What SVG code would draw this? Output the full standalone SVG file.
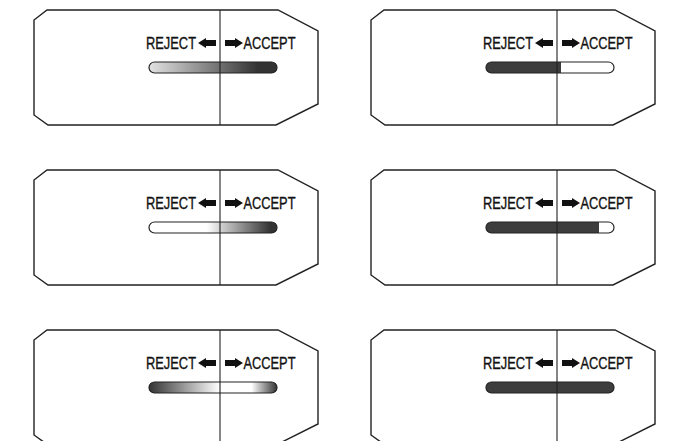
<svg xmlns="http://www.w3.org/2000/svg" width="673" height="441" viewBox="0 0 673 441">
  <style>
    .frame { fill: #fff; stroke: #222; stroke-width: 1.4; }
    .divider { stroke: #222; stroke-width: 1.1; }
    .lbl { font-family: "Liberation Sans", Arial, sans-serif; font-size: 16.5px; fill: #111; stroke: #111; stroke-width: 0.35; }
    .arr { fill: #111; }
    .bar { stroke: #222; stroke-width: 1.2; }
  </style>
  <defs>
    <linearGradient id="g1" x1="0" y1="0" x2="1" y2="0">
      <stop offset="0" stop-color="#e2e2e2"/>
      <stop offset="0.85" stop-color="#333"/>
      <stop offset="1" stop-color="#333"/>
    </linearGradient>
    <linearGradient id="g2" x1="0" y1="0" x2="1" y2="0">
      <stop offset="0" stop-color="#3d3d3d"/>
      <stop offset="0.585" stop-color="#3d3d3d"/>
      <stop offset="0.585" stop-color="#fff"/>
      <stop offset="1" stop-color="#fff"/>
    </linearGradient>
    <linearGradient id="g3" x1="0" y1="0" x2="1" y2="0">
      <stop offset="0" stop-color="#fff"/>
      <stop offset="0.45" stop-color="#fff"/>
      <stop offset="0.95" stop-color="#333"/>
      <stop offset="1" stop-color="#333"/>
    </linearGradient>
    <linearGradient id="g4" x1="0" y1="0" x2="1" y2="0">
      <stop offset="0" stop-color="#3d3d3d"/>
      <stop offset="0.88" stop-color="#3d3d3d"/>
      <stop offset="0.88" stop-color="#fff"/>
      <stop offset="1" stop-color="#fff"/>
    </linearGradient>
    <linearGradient id="g5" x1="0" y1="0" x2="1" y2="0">
      <stop offset="0" stop-color="#333"/>
      <stop offset="0.55" stop-color="#fff"/>
      <stop offset="0.8" stop-color="#fff"/>
      <stop offset="1" stop-color="#333"/>
    </linearGradient>
  </defs>

  <g id="panel-1">
    <polygon class="frame" points="47,10 278,10 318,31 318,104 276,125 48,125 34,115 34,20"/>
    <rect class="bar" x="149" y="62" width="128" height="11" rx="5.5" fill="url(#g1)"/>
    <line class="divider" x1="220" y1="10" x2="220" y2="125"/>
    <text class="lbl" x="146" y="48.5" textLength="50" lengthAdjust="spacingAndGlyphs">REJECT</text>
    <path class="arr" d="M198,43 L206,38 L206,40 L216,40 L216,46 L206,46 L206,48 Z"/>
    <path class="arr" d="M243,43 L235,38 L235,40 L225,40 L225,46 L235,46 L235,48 Z"/>
    <text class="lbl" x="243.5" y="48.5" textLength="52" lengthAdjust="spacingAndGlyphs">ACCEPT</text>
  </g>

  <g id="panel-2" transform="translate(337,0)">
    <polygon class="frame" points="47,10 278,10 318,31 318,104 276,125 48,125 34,115 34,20"/>
    <rect class="bar" x="149" y="62" width="128" height="11" rx="5.5" fill="url(#g2)"/>
    <line class="divider" x1="220" y1="10" x2="220" y2="125"/>
    <text class="lbl" x="146" y="48.5" textLength="50" lengthAdjust="spacingAndGlyphs">REJECT</text>
    <path class="arr" d="M198,43 L206,38 L206,40 L216,40 L216,46 L206,46 L206,48 Z"/>
    <path class="arr" d="M243,43 L235,38 L235,40 L225,40 L225,46 L235,46 L235,48 Z"/>
    <text class="lbl" x="243.5" y="48.5" textLength="52" lengthAdjust="spacingAndGlyphs">ACCEPT</text>
  </g>

  <g id="panel-3" transform="translate(0,160)">
    <polygon class="frame" points="47,10 278,10 318,31 318,104 276,125 48,125 34,115 34,20"/>
    <rect class="bar" x="149" y="62" width="128" height="11" rx="5.5" fill="url(#g3)"/>
    <line class="divider" x1="220" y1="10" x2="220" y2="125"/>
    <text class="lbl" x="146" y="48.5" textLength="50" lengthAdjust="spacingAndGlyphs">REJECT</text>
    <path class="arr" d="M198,43 L206,38 L206,40 L216,40 L216,46 L206,46 L206,48 Z"/>
    <path class="arr" d="M243,43 L235,38 L235,40 L225,40 L225,46 L235,46 L235,48 Z"/>
    <text class="lbl" x="243.5" y="48.5" textLength="52" lengthAdjust="spacingAndGlyphs">ACCEPT</text>
  </g>

  <g id="panel-4" transform="translate(337,160)">
    <polygon class="frame" points="47,10 278,10 318,31 318,104 276,125 48,125 34,115 34,20"/>
    <rect class="bar" x="149" y="62" width="128" height="11" rx="5.5" fill="url(#g4)"/>
    <line class="divider" x1="220" y1="10" x2="220" y2="125"/>
    <text class="lbl" x="146" y="48.5" textLength="50" lengthAdjust="spacingAndGlyphs">REJECT</text>
    <path class="arr" d="M198,43 L206,38 L206,40 L216,40 L216,46 L206,46 L206,48 Z"/>
    <path class="arr" d="M243,43 L235,38 L235,40 L225,40 L225,46 L235,46 L235,48 Z"/>
    <text class="lbl" x="243.5" y="48.5" textLength="52" lengthAdjust="spacingAndGlyphs">ACCEPT</text>
  </g>

  <g id="panel-5" transform="translate(0,320)">
    <polygon class="frame" points="47,10 278,10 318,31 318,104 276,125 48,125 34,115 34,20"/>
    <rect class="bar" x="149" y="62" width="128" height="11" rx="5.5" fill="url(#g5)"/>
    <line class="divider" x1="220" y1="10" x2="220" y2="125"/>
    <text class="lbl" x="146" y="48.5" textLength="50" lengthAdjust="spacingAndGlyphs">REJECT</text>
    <path class="arr" d="M198,43 L206,38 L206,40 L216,40 L216,46 L206,46 L206,48 Z"/>
    <path class="arr" d="M243,43 L235,38 L235,40 L225,40 L225,46 L235,46 L235,48 Z"/>
    <text class="lbl" x="243.5" y="48.5" textLength="52" lengthAdjust="spacingAndGlyphs">ACCEPT</text>
  </g>

  <g id="panel-6" transform="translate(337,320)">
    <polygon class="frame" points="47,10 278,10 318,31 318,104 276,125 48,125 34,115 34,20"/>
    <rect class="bar" x="149" y="62" width="128" height="11" rx="5.5" fill="#3d3d3d"/>
    <line class="divider" x1="220" y1="10" x2="220" y2="125"/>
    <text class="lbl" x="146" y="48.5" textLength="50" lengthAdjust="spacingAndGlyphs">REJECT</text>
    <path class="arr" d="M198,43 L206,38 L206,40 L216,40 L216,46 L206,46 L206,48 Z"/>
    <path class="arr" d="M243,43 L235,38 L235,40 L225,40 L225,46 L235,46 L235,48 Z"/>
    <text class="lbl" x="243.5" y="48.5" textLength="52" lengthAdjust="spacingAndGlyphs">ACCEPT</text>
  </g>

  <g id="connectors"/>
</svg>
